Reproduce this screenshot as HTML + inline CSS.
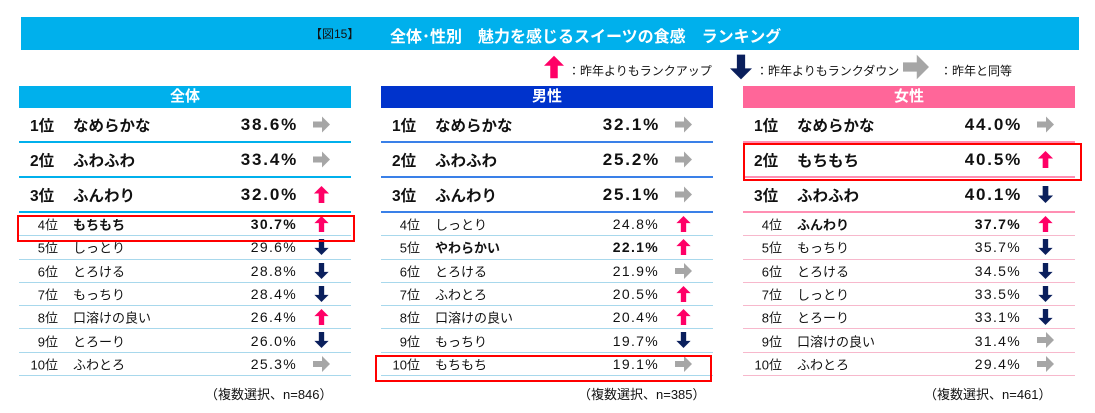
<!DOCTYPE html><html><head><meta charset="utf-8"><style>
body{margin:0;width:1095px;height:413px;background:#fff;font-family:"Liberation Sans","Noto Sans CJK JP",sans-serif;position:relative;overflow:hidden;color:#111}
.a{position:absolute;white-space:nowrap}
.bar{left:21px;top:17px;width:1058px;height:33px;background:#00b0ec}
.panel{position:absolute;top:86px;width:332px}
.hd{height:22px;color:#fff;font-weight:bold;font-size:15px;text-align:center;line-height:22px}
.row{position:relative;border-bottom:2px solid}
.big{height:33px;font-size:15.5px;font-weight:bold}
.big .pc{font-size:17px;letter-spacing:1.8px;right:53px}
.sm{height:22.3px;font-size:13px;border-bottom-width:1.5px}
.sm .pc{font-size:14px;letter-spacing:1.3px;right:54px}
.row span{position:absolute;top:50%;transform:translateY(-50%);white-space:nowrap}
.rk{left:11px}
.sm .rk{left:auto;right:293px}
.it{left:54px}
.ar{position:absolute;left:294px;width:17px;height:17px}
.sm .ar{height:16px}
.b{font-weight:bold}
.red{position:absolute;border:2.5px solid #f00;box-sizing:border-box}
.ft{position:absolute;top:384px;font-size:13px}
</style></head><body>
<svg width="0" height="0" style="position:absolute"><defs>
<symbol id="u" viewBox="0 0 16 18"><polygon points="8,0 16,8 11,8 11,18 5,18 5,8 0,8" fill="#ff0066"/></symbol>
<symbol id="d" viewBox="0 0 16 18"><polygon points="8,18 16,10 11,10 11,0 5,0 5,10 0,10" fill="#0a1f5c"/></symbol>
<symbol id="r" viewBox="0 0 17 16"><polygon points="0,5 9,5 9,0 17,8 9,16 9,11 0,11" fill="#a6a6a6"/></symbol>
</defs></svg>
<div class="a bar"></div>
<div class="a" style="left:310px;top:25px;font-size:12px">【図15】</div>
<div class="a" style="left:390px;top:23px;font-size:16px;font-weight:bold;color:#fff">全体･性別　魅力を感じるスイーツの食感　ランキング</div>
<svg class="a" style="left:544px;top:52px" width="20" height="30"><use href="#u" width="20" height="30"/></svg>
<div class="a" style="left:568px;top:62px;font-size:12px">：昨年よりもランクアップ</div>
<svg class="a" style="left:730px;top:52px" width="22" height="30"><use href="#d" width="22" height="30"/></svg>
<div class="a" style="left:756px;top:62px;font-size:12px">：昨年よりもランクダウン</div>
<svg class="a" style="left:903px;top:54px" width="26" height="26"><use href="#r" width="26" height="26"/></svg>
<div class="a" style="left:940px;top:62px;font-size:12px">：昨年と同等</div>

<div class="panel" style="left:19px">
<div class="hd" style="background:#00b0ec">全体</div>
<div class="row big" style="border-color:#00b0ec"><span class="rk">1位</span><span class="it">なめらかな</span><span class="pc">38.6%</span><svg class="ar" style="top:8px"><use href="#r"/></svg></div>
<div class="row big" style="border-color:#00b0ec"><span class="rk">2位</span><span class="it">ふわふわ</span><span class="pc">33.4%</span><svg class="ar" style="top:8px"><use href="#r"/></svg></div>
<div class="row big" style="border-color:#00b0ec"><span class="rk">3位</span><span class="it">ふんわり</span><span class="pc">32.0%</span><svg class="ar" style="top:8px"><use href="#u"/></svg></div>
<div class="row sm" style="border-color:#a8d8ec"><span class="rk">4位</span><span class="it b">もちもち</span><span class="pc b">30.7%</span><svg class="ar" style="top:3px"><use href="#u"/></svg></div>
<div class="row sm" style="border-color:#a8d8ec"><span class="rk">5位</span><span class="it">しっとり</span><span class="pc">29.6%</span><svg class="ar" style="top:3px"><use href="#d"/></svg></div>
<div class="row sm" style="border-color:#a8d8ec"><span class="rk">6位</span><span class="it">とろける</span><span class="pc">28.8%</span><svg class="ar" style="top:3px"><use href="#d"/></svg></div>
<div class="row sm" style="border-color:#a8d8ec"><span class="rk">7位</span><span class="it">もっちり</span><span class="pc">28.4%</span><svg class="ar" style="top:3px"><use href="#d"/></svg></div>
<div class="row sm" style="border-color:#a8d8ec"><span class="rk">8位</span><span class="it">口溶けの良い</span><span class="pc">26.4%</span><svg class="ar" style="top:3px"><use href="#u"/></svg></div>
<div class="row sm" style="border-color:#a8d8ec"><span class="rk">9位</span><span class="it">とろーり</span><span class="pc">26.0%</span><svg class="ar" style="top:3px"><use href="#d"/></svg></div>
<div class="row sm" style="border-color:#a8d8ec"><span class="rk">10位</span><span class="it">ふわとろ</span><span class="pc">25.3%</span><svg class="ar" style="top:3px"><use href="#r"/></svg></div>
</div>

<div class="panel" style="left:381px">
<div class="hd" style="background:#0033cc">男性</div>
<div class="row big" style="border-color:#3a80e8"><span class="rk">1位</span><span class="it">なめらかな</span><span class="pc">32.1%</span><svg class="ar" style="top:8px"><use href="#r"/></svg></div>
<div class="row big" style="border-color:#3a80e8"><span class="rk">2位</span><span class="it">ふわふわ</span><span class="pc">25.2%</span><svg class="ar" style="top:8px"><use href="#r"/></svg></div>
<div class="row big" style="border-color:#3a80e8"><span class="rk">3位</span><span class="it">ふんわり</span><span class="pc">25.1%</span><svg class="ar" style="top:8px"><use href="#r"/></svg></div>
<div class="row sm" style="border-color:#a8d8ec"><span class="rk">4位</span><span class="it">しっとり</span><span class="pc">24.8%</span><svg class="ar" style="top:3px"><use href="#u"/></svg></div>
<div class="row sm" style="border-color:#a8d8ec"><span class="rk">5位</span><span class="it b">やわらかい</span><span class="pc b">22.1%</span><svg class="ar" style="top:3px"><use href="#u"/></svg></div>
<div class="row sm" style="border-color:#a8d8ec"><span class="rk">6位</span><span class="it">とろける</span><span class="pc">21.9%</span><svg class="ar" style="top:3px"><use href="#r"/></svg></div>
<div class="row sm" style="border-color:#a8d8ec"><span class="rk">7位</span><span class="it">ふわとろ</span><span class="pc">20.5%</span><svg class="ar" style="top:3px"><use href="#u"/></svg></div>
<div class="row sm" style="border-color:#a8d8ec"><span class="rk">8位</span><span class="it">口溶けの良い</span><span class="pc">20.4%</span><svg class="ar" style="top:3px"><use href="#u"/></svg></div>
<div class="row sm" style="border-color:#a8d8ec"><span class="rk">9位</span><span class="it">もっちり</span><span class="pc">19.7%</span><svg class="ar" style="top:3px"><use href="#d"/></svg></div>
<div class="row sm" style="border-color:#a8d8ec"><span class="rk">10位</span><span class="it">もちもち</span><span class="pc">19.1%</span><svg class="ar" style="top:3px"><use href="#r"/></svg></div>
</div>

<div class="panel" style="left:743px">
<div class="hd" style="background:#ff6699">女性</div>
<div class="row big" style="border-color:#ff8fb3"><span class="rk">1位</span><span class="it">なめらかな</span><span class="pc">44.0%</span><svg class="ar" style="top:8px"><use href="#r"/></svg></div>
<div class="row big" style="border-color:#ff8fb3"><span class="rk">2位</span><span class="it">もちもち</span><span class="pc">40.5%</span><svg class="ar" style="top:8px"><use href="#u"/></svg></div>
<div class="row big" style="border-color:#ff8fb3"><span class="rk">3位</span><span class="it">ふわふわ</span><span class="pc">40.1%</span><svg class="ar" style="top:8px"><use href="#d"/></svg></div>
<div class="row sm" style="border-color:#f7b8cc"><span class="rk">4位</span><span class="it b">ふんわり</span><span class="pc b">37.7%</span><svg class="ar" style="top:3px"><use href="#u"/></svg></div>
<div class="row sm" style="border-color:#f7b8cc"><span class="rk">5位</span><span class="it">もっちり</span><span class="pc">35.7%</span><svg class="ar" style="top:3px"><use href="#d"/></svg></div>
<div class="row sm" style="border-color:#f7b8cc"><span class="rk">6位</span><span class="it">とろける</span><span class="pc">34.5%</span><svg class="ar" style="top:3px"><use href="#d"/></svg></div>
<div class="row sm" style="border-color:#f7b8cc"><span class="rk">7位</span><span class="it">しっとり</span><span class="pc">33.5%</span><svg class="ar" style="top:3px"><use href="#d"/></svg></div>
<div class="row sm" style="border-color:#f7b8cc"><span class="rk">8位</span><span class="it">とろーり</span><span class="pc">33.1%</span><svg class="ar" style="top:3px"><use href="#d"/></svg></div>
<div class="row sm" style="border-color:#f7b8cc"><span class="rk">9位</span><span class="it">口溶けの良い</span><span class="pc">31.4%</span><svg class="ar" style="top:3px"><use href="#r"/></svg></div>
<div class="row sm" style="border-color:#f7b8cc"><span class="rk">10位</span><span class="it">ふわとろ</span><span class="pc">29.4%</span><svg class="ar" style="top:3px"><use href="#r"/></svg></div>
</div>

<div class="red" style="left:17px;top:215px;width:338px;height:27px"></div>
<div class="red" style="left:375px;top:355px;width:337px;height:27px"></div>
<div class="red" style="left:743px;top:143px;width:339px;height:38px"></div>
<div class="ft" style="left:205px">（複数選択、n=846）</div>
<div class="ft" style="left:578px">（複数選択、n=385）</div>
<div class="ft" style="left:924px">（複数選択、n=461）</div>
</body></html>
